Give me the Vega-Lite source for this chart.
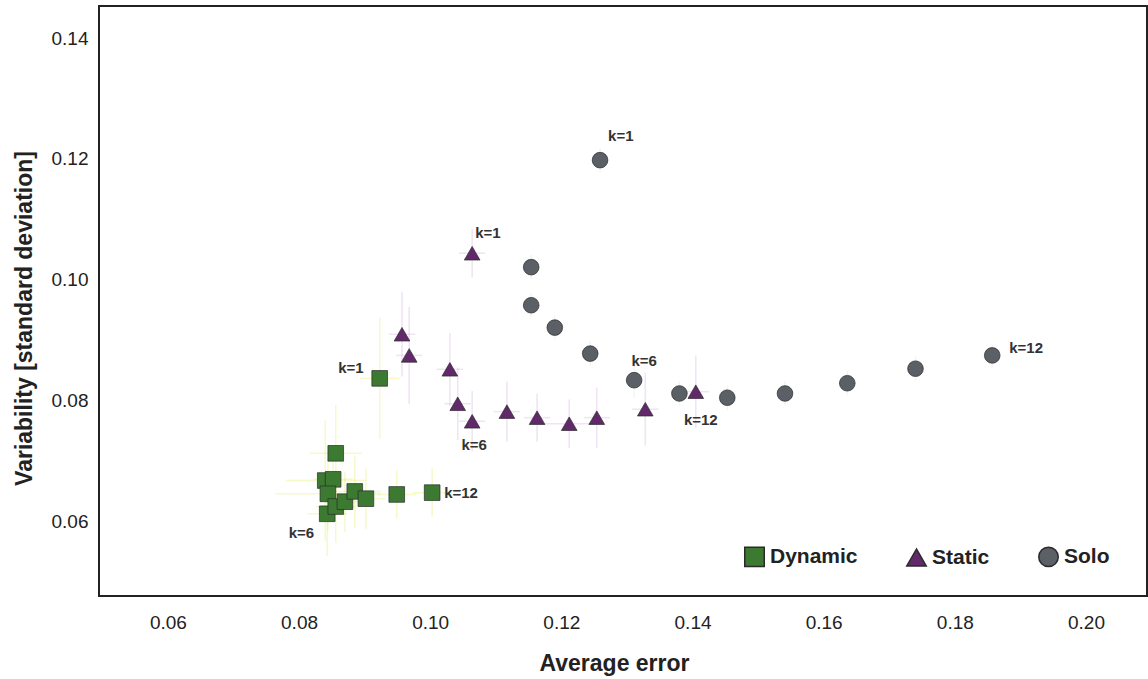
{
  "$schema": "https://vega.github.io/schema/vega-lite/v6.json",
  "width": 1048,
  "height": 590,
  "autosize": {"type": "none"},
  "padding": {"left": 99, "top": 6, "right": 1, "bottom": 83},
  "background": "white",
  "config": {
    "view": {"stroke": "#222222", "strokeWidth": 2},
    "font": "Liberation Sans",
    "axis": {
      "grid": false, "ticks": false, "domain": false,
      "labelFont": "Liberation Sans", "labelFontSize": 19, "labelColor": "#222222",
      "titleFont": "Liberation Sans", "titleFontSize": 23, "titleFontWeight": "bold", "titleColor": "#222222"
    }
  },
  "data": {
    "values": [
      {"series": "Dynamic", "k": 1, "err": 0.0923, "sd": 0.0837, "xerr": 0.003, "yerr": 0.010, "label": "k=1"},
      {"series": "Dynamic", "k": 2, "err": 0.0856, "sd": 0.0713, "xerr": 0.004, "yerr": 0.008},
      {"series": "Dynamic", "k": 3, "err": 0.0840, "sd": 0.0668, "xerr": 0.006, "yerr": 0.010},
      {"series": "Dynamic", "k": 4, "err": 0.0852, "sd": 0.0670, "xerr": 0.003, "yerr": 0.005},
      {"series": "Dynamic", "k": 5, "err": 0.0844, "sd": 0.0646, "xerr": 0.008, "yerr": 0.006},
      {"series": "Dynamic", "k": 6, "err": 0.0843, "sd": 0.0613, "xerr": 0.003, "yerr": 0.007, "label": "k=6"},
      {"series": "Dynamic", "k": 7, "err": 0.0856, "sd": 0.0625, "xerr": 0.003, "yerr": 0.006},
      {"series": "Dynamic", "k": 8, "err": 0.0870, "sd": 0.0633, "xerr": 0.003, "yerr": 0.005},
      {"series": "Dynamic", "k": 9, "err": 0.0885, "sd": 0.0650, "xerr": 0.004, "yerr": 0.006},
      {"series": "Dynamic", "k": 10, "err": 0.0902, "sd": 0.0638, "xerr": 0.003, "yerr": 0.005},
      {"series": "Dynamic", "k": 11, "err": 0.0949, "sd": 0.0645, "xerr": 0.003, "yerr": 0.004},
      {"series": "Dynamic", "k": 12, "err": 0.1003, "sd": 0.0648, "xerr": 0.003, "yerr": 0.004, "label": "k=12"},
      {"series": "Static", "k": 1, "err": 0.1064, "sd": 0.1044, "xerr": 0.002, "yerr": 0.004, "label": "k=1"},
      {"series": "Static", "k": 2, "err": 0.0957, "sd": 0.0910, "xerr": 0.002, "yerr": 0.007},
      {"series": "Static", "k": 3, "err": 0.0968, "sd": 0.0875, "xerr": 0.002, "yerr": 0.008},
      {"series": "Static", "k": 4, "err": 0.1030, "sd": 0.0852, "xerr": 0.002, "yerr": 0.006},
      {"series": "Static", "k": 5, "err": 0.1042, "sd": 0.0795, "xerr": 0.002, "yerr": 0.006},
      {"series": "Static", "k": 6, "err": 0.1064, "sd": 0.0766, "xerr": 0.002, "yerr": 0.005, "label": "k=6"},
      {"series": "Static", "k": 7, "err": 0.1117, "sd": 0.0782, "xerr": 0.002, "yerr": 0.005},
      {"series": "Static", "k": 8, "err": 0.1163, "sd": 0.0772, "xerr": 0.002, "yerr": 0.004},
      {"series": "Static", "k": 9, "err": 0.1212, "sd": 0.0762, "xerr": 0.004, "yerr": 0.004},
      {"series": "Static", "k": 10, "err": 0.1254, "sd": 0.0772, "xerr": 0.002, "yerr": 0.005},
      {"series": "Static", "k": 11, "err": 0.1328, "sd": 0.0786, "xerr": 0.002, "yerr": 0.006},
      {"series": "Static", "k": 12, "err": 0.1405, "sd": 0.0815, "xerr": 0.002, "yerr": 0.006, "label": "k=12"},
      {"series": "Solo", "k": 1, "err": 0.1259, "sd": 0.1198, "xerr": 0.001, "yerr": 0.002, "label": "k=1"},
      {"series": "Solo", "k": 2, "err": 0.1154, "sd": 0.1021, "xerr": 0.001, "yerr": 0.002},
      {"series": "Solo", "k": 3, "err": 0.1154, "sd": 0.0958, "xerr": 0.001, "yerr": 0.002},
      {"series": "Solo", "k": 4, "err": 0.1190, "sd": 0.0921, "xerr": 0.001, "yerr": 0.002},
      {"series": "Solo", "k": 5, "err": 0.1244, "sd": 0.0878, "xerr": 0.001, "yerr": 0.002},
      {"series": "Solo", "k": 6, "err": 0.1311, "sd": 0.0834, "xerr": 0.001, "yerr": 0.003, "label": "k=6"},
      {"series": "Solo", "k": 7, "err": 0.1380, "sd": 0.0812, "xerr": 0.001, "yerr": 0.002},
      {"series": "Solo", "k": 8, "err": 0.1453, "sd": 0.0805, "xerr": 0.001, "yerr": 0.002},
      {"series": "Solo", "k": 9, "err": 0.1541, "sd": 0.0812, "xerr": 0.001, "yerr": 0.002},
      {"series": "Solo", "k": 10, "err": 0.1636, "sd": 0.0829, "xerr": 0.001, "yerr": 0.002},
      {"series": "Solo", "k": 11, "err": 0.1740, "sd": 0.0853, "xerr": 0.001, "yerr": 0.002},
      {"series": "Solo", "k": 12, "err": 0.1857, "sd": 0.0875, "xerr": 0.001, "yerr": 0.002, "label": "k=12"}
    ]
  },
  "encoding": {
    "x": {
      "field": "err", "type": "quantitative",
      "scale": {"domain": [0.0495, 0.2093], "nice": false, "zero": false},
      "axis": {"title": "Average error", "values": [0.06, 0.08, 0.10, 0.12, 0.14, 0.16, 0.18, 0.20], "format": ".2f", "labelPadding": 17, "titlePadding": 20, "titleX": 515}
    },
    "y": {
      "field": "sd", "type": "quantitative",
      "scale": {"domain": [0.0477, 0.1453], "nice": false, "zero": false},
      "axis": {"title": "Variability [standard deviation]", "values": [0.06, 0.08, 0.10, 0.12, 0.14], "format": ".2f", "labelPadding": 11, "titlePadding": 15, "titleY": 312}
    }
  },
  "layer": [
    {
      "mark": {"type": "errorbar", "thickness": 1.5, "opacity": 0.28},
      "encoding": {
        "yError": {"field": "yerr"},
        "color": {"condition": [{"test": "datum.series === 'Dynamic'", "value": "#dfe83a"}, {"test": "datum.series === 'Static'", "value": "#c49bd6"}], "value": "#d6d6d6"}
      }
    },
    {
      "mark": {"type": "errorbar", "thickness": 1.5, "opacity": 0.28},
      "encoding": {
        "xError": {"field": "xerr"},
        "color": {"condition": [{"test": "datum.series === 'Dynamic'", "value": "#dfe83a"}, {"test": "datum.series === 'Static'", "value": "#c49bd6"}], "value": "#d6d6d6"}
      }
    },
    {
      "mark": {"type": "point", "filled": true, "size": 245, "opacity": 1, "stroke": "#2a2a2a", "strokeWidth": 0.7},
      "encoding": {
        "color": {
          "field": "series", "type": "nominal",
          "scale": {"domain": ["Dynamic", "Static", "Solo"], "range": ["#3d7a31", "#62296a", "#5b6066"]},
          "legend": {"title": null, "orient": "none", "legendX": 645, "legendY": 540, "direction": "horizontal", "symbolSize": 380, "labelFontSize": 21, "labelFontWeight": "bold", "labelFont": "Liberation Sans", "labelColor": "#222222", "columnPadding": 45, "labelOffset": 5, "symbolOpacity": 1}
        },
        "shape": {
          "field": "series", "type": "nominal",
          "scale": {"domain": ["Dynamic", "Static", "Solo"], "range": ["square", "triangle-up", "circle"]},
          "legend": {"title": null, "orient": "none", "legendX": 645, "legendY": 540, "direction": "horizontal", "symbolSize": 380, "labelFontSize": 21, "labelFontWeight": "bold", "labelFont": "Liberation Sans", "labelColor": "#222222", "columnPadding": 45, "labelOffset": 5, "symbolOpacity": 1}
        }
      }
    },
    {"transform": [{"filter": "datum.series == 'Solo' && datum.k == 1"}], "mark": {"type": "text", "align": "left", "dx": 8, "dy": -24, "fontSize": 15, "fontWeight": "bold", "color": "#333333"}, "encoding": {"text": {"field": "label"}}},
    {"transform": [{"filter": "datum.series == 'Static' && datum.k == 1"}], "mark": {"type": "text", "align": "left", "dx": 3, "dy": -20, "fontSize": 15, "fontWeight": "bold", "color": "#333333"}, "encoding": {"text": {"field": "label"}}},
    {"transform": [{"filter": "datum.series == 'Dynamic' && datum.k == 1"}], "mark": {"type": "text", "align": "right", "dx": -16, "dy": -10, "fontSize": 15, "fontWeight": "bold", "color": "#333333"}, "encoding": {"text": {"field": "label"}}},
    {"transform": [{"filter": "datum.series == 'Dynamic' && datum.k == 6"}], "mark": {"type": "text", "align": "right", "dx": -13, "dy": 19, "fontSize": 15, "fontWeight": "bold", "color": "#333333"}, "encoding": {"text": {"field": "label"}}},
    {"transform": [{"filter": "datum.series == 'Dynamic' && datum.k == 12"}], "mark": {"type": "text", "align": "left", "dx": 12, "dy": 0, "fontSize": 15, "fontWeight": "bold", "color": "#333333"}, "encoding": {"text": {"field": "label"}}},
    {"transform": [{"filter": "datum.series == 'Solo' && datum.k == 12"}], "mark": {"type": "text", "align": "left", "dx": 17, "dy": -7, "fontSize": 15, "fontWeight": "bold", "color": "#333333"}, "encoding": {"text": {"field": "label"}}},
    {"transform": [{"filter": "datum.series == 'Static' && datum.k == 6"}], "mark": {"type": "text", "align": "center", "dx": 2, "dy": 24, "fontSize": 15, "fontWeight": "bold", "color": "#333333"}, "encoding": {"text": {"field": "label"}}},
    {"transform": [{"filter": "datum.series == 'Static' && datum.k == 12"}], "mark": {"type": "text", "align": "center", "dx": 5, "dy": 28, "fontSize": 15, "fontWeight": "bold", "color": "#333333"}, "encoding": {"text": {"field": "label"}}},
    {"transform": [{"filter": "datum.series == 'Solo' && datum.k == 6"}], "mark": {"type": "text", "align": "center", "dx": 10, "dy": -19, "fontSize": 15, "fontWeight": "bold", "color": "#333333"}, "encoding": {"text": {"field": "label"}}}
  ]
}
